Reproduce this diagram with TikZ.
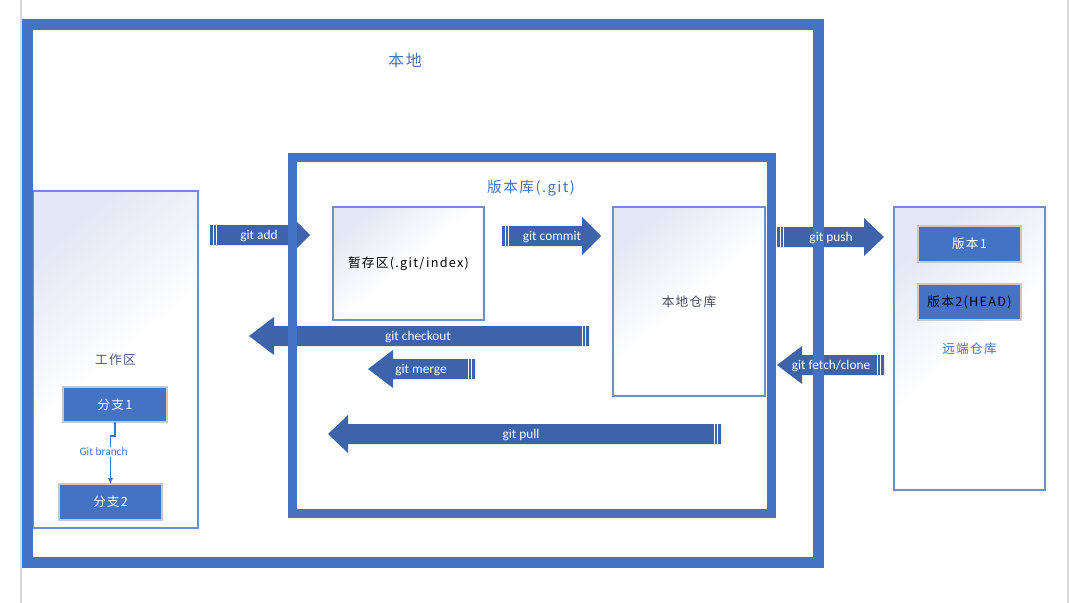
\documentclass[tikz,border=0pt]{standalone}
\usepackage{fontspec}
\setmainfont{Carlito}
\newfontfamily\cjk[LetterSpace=10]{Noto Sans CJK SC}
\usetikzlibrary{arrows.meta, positioning}

\definecolor{frameblue}{RGB}{68,114,196}
\definecolor{arrowblue}{RGB}{61,99,171}
\definecolor{boxline}{RGB}{112,142,206}
\definecolor{lav}{RGB}{228,231,245}
\definecolor{keygray}{RGB}{200,200,200}
\definecolor{pagegray}{RGB}{217,217,217}
\definecolor{darklabel}{RGB}{70,76,100}

\tikzset{
  area/.style={draw=boxline, line width=0.9pt, shade, top color=lav,
    bottom color=white, middle color=white, shading angle=40,
    inner sep=0pt, outer sep=0pt, font=\cjk\fontsize{9.5}{11}\selectfont},
  branch/.style={fill=frameblue, draw=keygray, line width=1.1pt, text=white,
    inner sep=0pt, outer sep=0pt, font=\cjk\fontsize{9.5}{11}\selectfont},
  stripe/.style={draw=white, line width=0.6pt},
  cmd/.style={text=white, font=\fontsize{10}{12}\selectfont},
  title/.style={text=frameblue, font=\cjk\fontsize{12}{14}\selectfont},
}

% block arrow: tail x, tip x, centre y, head length
\newcommand{\gitarrow}[4]{%
  \pgfmathsetmacro\sg{sign(#2-#1)}%
  \pgfmathsetmacro\hb{#2-\sg*#4}%
  \fill[arrowblue] (#1,#3-10) -- (\hb,#3-10) -- (\hb,#3-19) -- (#2,#3)
    -- (\hb,#3+19) -- (\hb,#3+10) -- (#1,#3+10) -- cycle;
  \draw[stripe] (#1+\sg*3.5,#3-10) -- (#1+\sg*3.5,#3+10);
  \draw[stripe] (#1+\sg*6.5,#3-10) -- (#1+\sg*6.5,#3+10);
}

\begin{document}
\begin{tikzpicture}[x=0.75pt, y=-0.75pt]
  \useasboundingbox (0,0) rectangle (1071,603);
  % page edges
  \draw[pagegray, line width=1.1pt] (21,0) -- (21,603);
  \draw[pagegray, line width=1.1pt] (1068,0) -- (1068,603);

  % working area
  \node[area, minimum width=123.75pt, minimum height=252.75pt, text=darklabel!70!frameblue]
    (work) at (115.5,359.5) {工作区};
  \node[branch, minimum width=78pt, minimum height=26.25pt] (b1) at (115,404.5) {分支1};
  \node[branch, minimum width=77.25pt, minimum height=27pt] (b2) at (110.5,502) {分支2};
  \draw[frameblue, line width=0.8pt, -{Latex[length=4.5pt,width=4pt]}]
    (b1.south) -- ++(0,14) -| (b2.north);
  \node[fill=white, inner sep=1pt, text=frameblue, font=\fontsize{8.5}{10}\selectfont]
    (branchlbl) at (103.5,452) {Git branch};

  % stage and local repository
  \node[area, minimum width=113.25pt, minimum height=84.75pt, text=black]
    (stage) at (408.5,263.5) {暂存区(.git/index)};
  \node[area, minimum width=114pt, minimum height=141.75pt, text=darklabel]
    (localrepo) at (689,301.5) {本地仓库};

  % remote repository
  \node[area, minimum width=113.25pt, minimum height=212.25pt, text=frameblue]
    (remote) at (969.5,348.5) {远端仓库};
  \node[branch, minimum width=77.25pt, minimum height=27pt] (v1) at (969.5,244) {版本1};
  \node[branch, minimum width=77.25pt, minimum height=27pt, text=black] (v2) at (969.5,302) {版本2(HEAD)};

  % commands
  \gitarrow{210}{310}{235}{19}
  \gitarrow{502}{601}{236}{19}
  \gitarrow{777}{884}{237}{20}
  \gitarrow{884}{777}{365}{25}
  \gitarrow{589}{249}{336}{25}
  \gitarrow{475}{368}{369}{25}
  \gitarrow{721}{328}{434}{20}

  % frames
  \draw[frameblue, line width=8.25pt] (27,24) rectangle (818,562);
  \draw[frameblue, line width=6.75pt] (292.5,157.5) rectangle (771.5,513.5);
  \node[title] (locallbl) at (405,60) {本地};
  \node[title, font=\cjk\fontsize{11}{13}\selectfont] (gitlbl) at (531,188) {版本库(.git)};

  % command labels
  \node[cmd] (add) at (259,236.5) {git add};
  \node[cmd] (commit) at (552,237.5) {git commit};
  \node[cmd] (push) at (831,238.5) {git push};
  \node[cmd] (fetch) at (831,366.5) {git fetch/clone};
  \node[cmd] (checkout) at (418,337.5) {git checkout};
  \node[cmd] (merge) at (421,370.5) {git merge};
  \node[cmd] (pull) at (521,435.5) {git pull};
\end{tikzpicture}
\end{document}
